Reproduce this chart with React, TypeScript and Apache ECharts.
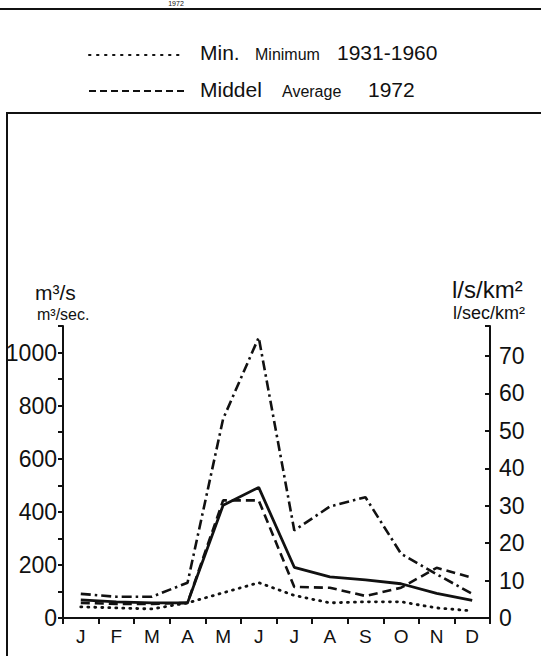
import React, { useEffect, useRef } from "react";
import * as echarts from "echarts";

const months = ["J", "F", "M", "A", "M", "J", "J", "A", "S", "O", "N", "D"];
// m³/s
const maxSeries = [91, 80, 80, 133, 750, 1057, 330, 420, 455, 242, 165, 91];
const meanSeries = [68, 61, 57, 57, 425, 492, 191, 155, 144, 129, 93, 66];
const minSeries = [42, 38, 34, 57, 95, 133, 85, 57, 61, 61, 38, 27];
const avg1972Series = [57, 53, 53, 57, 443, 443, 117, 114, 83, 114, 189, 152];

const leftTicks = { min: 0, max: 1100, interval: 100, labelStep: 200, labelMax: 1000 };
const rightTicks = { min: 0, max: 78, interval: 10, labelMax: 70 };

const NARROW = '"Liberation Sans Narrow", "Liberation Sans", "DejaVu Sans Condensed", sans-serif';
const SANS = '"Liberation Sans", "DejaVu Sans", sans-serif';

export default function App() {
  const ref = useRef<HTMLDivElement>(null);
  useEffect(() => {
    document.body.style.margin = "0";
    const chart = echarts.init(ref.current!, null, { renderer: "svg" });
    const black = "#111";
    const txt = (text: string, x: number, y: number, size: number, font = SANS, align = "left", va = "middle") => ({
      type: "text",
      x,
      y,
      style: { text, fill: black, font: `${size}px ${font}`, textAlign: align, textVerticalAlign: va },
    });
    chart.setOption({
      animation: false,
      backgroundColor: "#fff",
      grid: { left: 63, right: 51, top: 326, bottom: 38 },
      xAxis: {
        type: "category",
        data: months,
        boundaryGap: true,
        axisLine: { show: true, lineStyle: { color: black, width: 2 } },
        axisTick: { show: true, length: 6, lineStyle: { color: black, width: 2 } },
        axisLabel: { color: black, fontSize: 19, margin: 9, fontFamily: SANS, interval: 0 },
        splitLine: { show: false },
      },
      yAxis: [
        {
          type: "value",
          position: "left",
          min: leftTicks.min,
          max: leftTicks.max,
          interval: leftTicks.interval,
          axisLine: { show: true, lineStyle: { color: black, width: 2 } },
          axisTick: { show: true, length: 5, lineStyle: { color: black, width: 2 } },
          axisLabel: {
            color: black,
            fontSize: 23,
            margin: 6,
            fontFamily: NARROW,
            formatter: (v: number) => (v % leftTicks.labelStep === 0 && v <= leftTicks.labelMax ? String(v) : ""),
          },
          splitLine: { show: false },
        },
        {
          type: "value",
          position: "right",
          min: rightTicks.min,
          max: rightTicks.max,
          interval: rightTicks.interval,
          axisLine: { show: true, lineStyle: { color: black, width: 2 } },
          axisTick: { show: true, inside: true, length: 5, lineStyle: { color: black, width: 2 } },
          axisLabel: {
            color: black,
            fontSize: 23,
            margin: 9,
            fontFamily: SANS,
            formatter: (v: number) => (v % 10 === 0 && v <= rightTicks.labelMax ? String(v) : ""),
          },
          splitLine: { show: false },
        },
      ],
      series: [
        {
          name: "Max. 1931-1960",
          type: "line",
          data: maxSeries,
          showSymbol: false,
          lineStyle: { color: black, width: 2.6, type: [10, 4, 2.5, 4] },
        },
        {
          name: "Middel 1931-1960",
          type: "line",
          data: meanSeries,
          showSymbol: false,
          lineStyle: { color: black, width: 2.8, type: "solid" },
        },
        {
          name: "Min. Minimum 1931-1960",
          type: "line",
          data: minSeries,
          showSymbol: false,
          lineStyle: { color: black, width: 2.8, type: [1, 6], cap: "round" },
        },
        {
          name: "Middel Average 1972",
          type: "line",
          data: avg1972Series,
          showSymbol: false,
          lineStyle: { color: black, width: 2.6, type: [9, 5] },
        },
      ],
      graphic: [
        txt("1972", 176, 0, 7, SANS, "center", "top"),
        { type: "line", shape: { x1: 0, y1: 9, x2: 541, y2: 9 }, style: { stroke: black, lineWidth: 2 } },
        { type: "polyline", shape: { points: [[7, 656], [7, 113], [541, 113]] }, style: { stroke: black, lineWidth: 2, fill: null } },
        { type: "line", shape: { x1: 89, y1: 55, x2: 185, y2: 55 }, style: { stroke: black, lineWidth: 2, lineDash: [1.5, 6.5], lineCap: "round" } },
        txt("Min.", 200, 52, 21),
        txt("Minimum", 255, 54, 16),
        txt("1931-1960", 337, 52, 21),
        { type: "line", shape: { x1: 89, y1: 91, x2: 187, y2: 91 }, style: { stroke: black, lineWidth: 2, lineDash: [7, 4] } },
        txt("Middel", 200, 89, 21),
        txt("Average", 282, 91, 16),
        txt("1972", 368, 89, 21),
        txt("m³/s", 35, 292, 21),
        txt("m³/sec.", 37, 314, 16),
        txt("l/s/km²", 452, 289, 24),
        txt("l/sec/km²", 453, 313, 18),
      ],
    });
    return () => chart.dispose();
  }, []);
  return <div ref={ref} style={{ width: 541, height: 656 }} />;
}
